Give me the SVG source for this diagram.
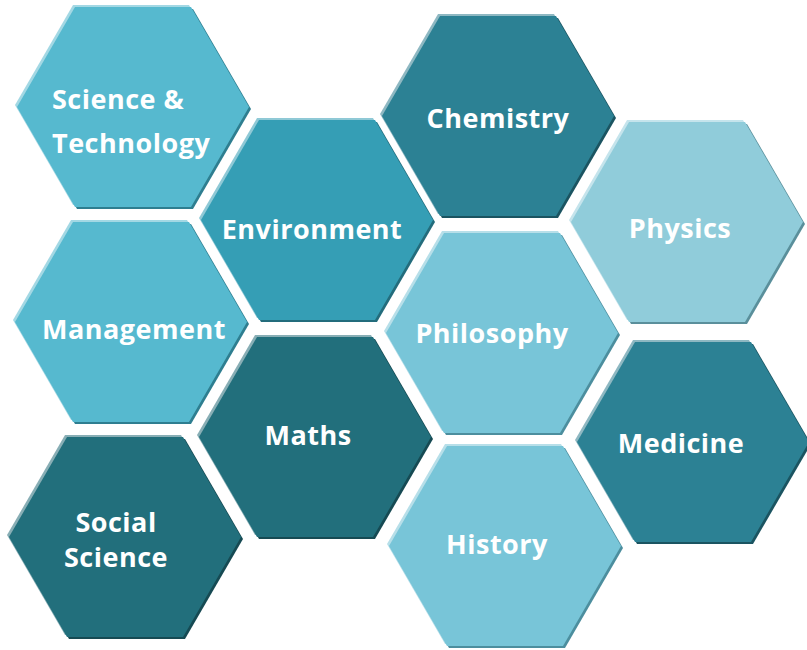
<svg xmlns="http://www.w3.org/2000/svg" xmlns:xlink="http://www.w3.org/1999/xlink" width="807" height="650" viewBox="0 0 807 650">
<style>
.lbl{font-family:"Open Sans","Noto Sans","Liberation Sans",sans-serif;font-weight:700;font-size:27px;letter-spacing:0.5px;fill:#FFFFFF;text-anchor:middle}
.c1 .m{fill:#56B9CF}.c1 .l{fill:#A3D8E4}.c1 .d{fill:#2E7E90}
.c2 .m{fill:#359EB5}.c2 .l{fill:#8FC9D6}.c2 .d{fill:#236C7C}
.c3 .m{fill:#2C8194}.c3 .l{fill:#8EB8C2}.c3 .d{fill:#1B5461}
.c4 .m{fill:#90CCDA}.c4 .l{fill:#C5E4EC}.c4 .d{fill:#5A8F9B}
.c5 .m{fill:#78C5D8}.c5 .l{fill:#B7DFE9}.c5 .d{fill:#4C8E9E}
.c6 .m{fill:#226F7C}.c6 .l{fill:#88AEB5}.c6 .d{fill:#164A53}
</style>
<defs>
<polygon id="hex" points="-116,0 -58,-100 58,-100 116,0 58,100 -58,100"/>
</defs>
<g id="science-technology" class="c1" transform="translate(133,107)">
<use xlink:href="#hex" href="#hex" class="l" x="-2" y="-2"/><use xlink:href="#hex" href="#hex" class="d" x="2" y="2"/><use xlink:href="#hex" href="#hex" class="m"/>
<text class="lbl" x="-81" y="2" style="text-anchor:start">Science &amp;</text>
<text class="lbl" x="-81" y="46" style="text-anchor:start">Technology</text>
</g>
<g id="environment" class="c2" transform="translate(317,220)">
<use xlink:href="#hex" href="#hex" class="l" x="-2" y="-2"/><use xlink:href="#hex" href="#hex" class="d" x="2" y="2"/><use xlink:href="#hex" href="#hex" class="m"/>
<text class="lbl" x="-5" y="19">Environment</text>
</g>
<g id="chemistry" class="c3" transform="translate(498,116)">
<use xlink:href="#hex" href="#hex" class="l" x="-2" y="-2"/><use xlink:href="#hex" href="#hex" class="d" x="2" y="2"/><use xlink:href="#hex" href="#hex" class="m"/>
<text class="lbl" x="0" y="12">Chemistry</text>
</g>
<g id="physics" class="c4" transform="translate(687,222)">
<use xlink:href="#hex" href="#hex" class="l" x="-2" y="-2"/><use xlink:href="#hex" href="#hex" class="d" x="2" y="2"/><use xlink:href="#hex" href="#hex" class="m"/>
<text class="lbl" x="-7" y="16">Physics</text>
</g>
<g id="management" class="c1" transform="translate(131,322)">
<use xlink:href="#hex" href="#hex" class="l" x="-2" y="-2"/><use xlink:href="#hex" href="#hex" class="d" x="2" y="2"/><use xlink:href="#hex" href="#hex" class="m"/>
<text class="lbl" x="3" y="17">Management</text>
</g>
<g id="philosophy" class="c5" transform="translate(502,333)">
<use xlink:href="#hex" href="#hex" class="l" x="-2" y="-2"/><use xlink:href="#hex" href="#hex" class="d" x="2" y="2"/><use xlink:href="#hex" href="#hex" class="m"/>
<text class="lbl" x="-10" y="10">Philosophy</text>
</g>
<g id="maths" class="c6" transform="translate(315,437)">
<use xlink:href="#hex" href="#hex" class="l" x="-2" y="-2"/><use xlink:href="#hex" href="#hex" class="d" x="2" y="2"/><use xlink:href="#hex" href="#hex" class="m"/>
<text class="lbl" x="-7" y="8">Maths</text>
</g>
<g id="medicine" class="c3" transform="translate(693,442)">
<use xlink:href="#hex" href="#hex" class="l" x="-2" y="-2"/><use xlink:href="#hex" href="#hex" class="d" x="2" y="2"/><use xlink:href="#hex" href="#hex" class="m"/>
<text class="lbl" x="-12" y="11">Medicine</text>
</g>
<g id="social-science" class="c6" transform="translate(125,537)">
<use xlink:href="#hex" href="#hex" class="l" x="-2" y="-2"/><use xlink:href="#hex" href="#hex" class="d" x="2" y="2"/><use xlink:href="#hex" href="#hex" class="m"/>
<text class="lbl" x="-9" y="-5">Social</text>
<text class="lbl" x="-9" y="30">Science</text>
</g>
<g id="history" class="c5" transform="translate(505,546)">
<use xlink:href="#hex" href="#hex" class="l" x="-2" y="-2"/><use xlink:href="#hex" href="#hex" class="d" x="2" y="2"/><use xlink:href="#hex" href="#hex" class="m"/>
<text class="lbl" x="-8" y="8">History</text>
</g>
<g id="connectors"/>
</svg>
